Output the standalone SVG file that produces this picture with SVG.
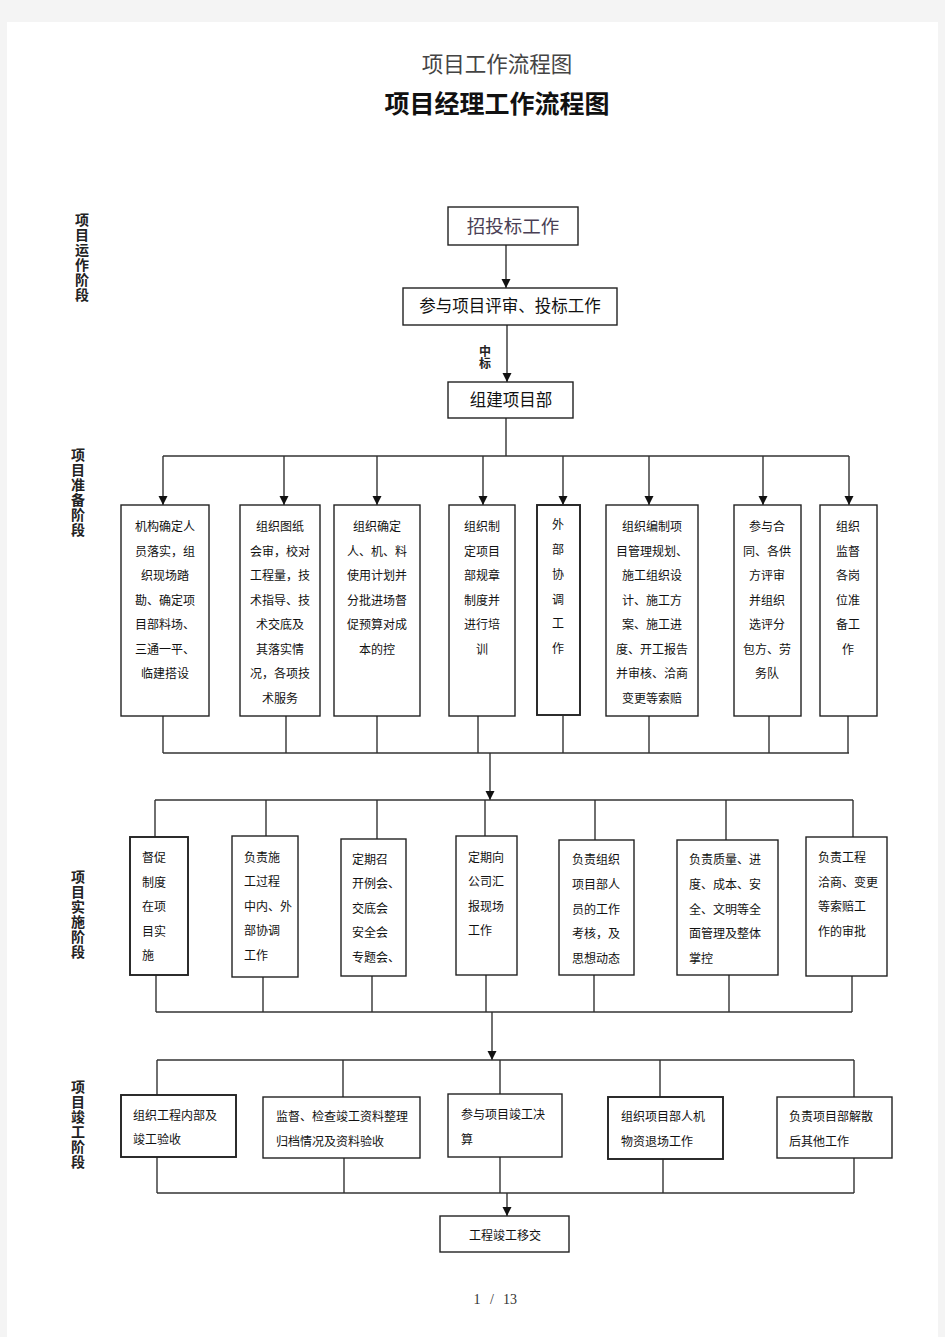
<svg xmlns="http://www.w3.org/2000/svg" width="945" height="1337" viewBox="0 0 945 1337">
<style>
.box{fill:#fff;stroke:#222;stroke-width:1.4}
.thick{stroke-width:1.9}
.ln{fill:none;stroke:#333;stroke-width:1.4}
.t{font-family:"Noto Sans CJK SC","Liberation Sans",sans-serif;font-size:12px;fill:#111}
.c{text-anchor:middle}
.lab{font-family:"Noto Sans CJK SC","Liberation Sans",sans-serif;font-size:14px;font-weight:bold;fill:#222;writing-mode:vertical-rl;letter-spacing:1px}
.big{font-family:"Noto Sans CJK SC","Liberation Sans",sans-serif;font-size:16.5px;fill:#111;text-anchor:middle}
</style>
<defs>
<marker id="ah" markerWidth="10" markerHeight="10" refX="9" refY="5" orient="auto" markerUnits="userSpaceOnUse">
<path d="M0,0.5 L9,5 L0,9.5 Z" fill="#111"/>
</marker>
</defs>
<rect x="0" y="0" width="945" height="1337" fill="#f4f4f4"/>
<rect x="7" y="22" width="931" height="1315" fill="#fff"/>

<text x="497" y="72" style="font-family:'Noto Sans CJK SC',sans-serif;font-size:21.5px;fill:#444" text-anchor="middle">项目工作流程图</text>
<text x="497" y="113" style="font-family:'Noto Sans CJK SC',sans-serif;font-size:25px;font-weight:bold;fill:#111" text-anchor="middle">项目经理工作流程图</text>

<g id="stage-labels">
<text class="lab" x="82" y="213">项目运作阶段</text>
<text class="lab" x="78" y="448">项目准备阶段</text>
<text class="lab" x="78" y="870">项目实施阶段</text>
<text class="lab" x="78" y="1080">项目竣工阶段</text>
</g>

<g id="connectors">
<line class="ln" x1="506" y1="245" x2="506" y2="288" marker-end="url(#ah)"/>
<line class="ln" x1="507" y1="325" x2="507" y2="382" marker-end="url(#ah)"/>
<text x="485" y="345" style="font-family:'Noto Sans CJK SC',sans-serif;font-size:12px;font-weight:bold;fill:#222;writing-mode:vertical-rl">中标</text>
<polyline class="ln" points="506,418 506,456"/>
<line class="ln" x1="163" y1="456" x2="849" y2="456"/>
<line class="ln" x1="163" y1="456" x2="163" y2="505" marker-end="url(#ah)"/>
<line class="ln" x1="284" y1="456" x2="284" y2="505" marker-end="url(#ah)"/>
<line class="ln" x1="377" y1="456" x2="377" y2="505" marker-end="url(#ah)"/>
<line class="ln" x1="483" y1="456" x2="483" y2="505" marker-end="url(#ah)"/>
<line class="ln" x1="563" y1="456" x2="563" y2="505" marker-end="url(#ah)"/>
<line class="ln" x1="649" y1="456" x2="649" y2="505" marker-end="url(#ah)"/>
<line class="ln" x1="763" y1="456" x2="763" y2="505" marker-end="url(#ah)"/>
<line class="ln" x1="849" y1="456" x2="849" y2="505" marker-end="url(#ah)"/>

<line class="ln" x1="163" y1="716" x2="163" y2="753"/>
<line class="ln" x1="286" y1="716" x2="286" y2="753"/>
<line class="ln" x1="377" y1="716" x2="377" y2="753"/>
<line class="ln" x1="478" y1="716" x2="478" y2="753"/>
<line class="ln" x1="563" y1="716" x2="563" y2="753"/>
<line class="ln" x1="649" y1="716" x2="649" y2="753"/>
<line class="ln" x1="769" y1="716" x2="769" y2="753"/>
<line class="ln" x1="848" y1="716" x2="848" y2="753"/>
<line class="ln" x1="163" y1="753" x2="849" y2="753"/>
<line class="ln" x1="490" y1="753" x2="490" y2="800" marker-end="url(#ah)"/>

<line class="ln" x1="155" y1="800" x2="853" y2="800"/>
<line class="ln" x1="155" y1="800" x2="155" y2="837"/>
<line class="ln" x1="266" y1="800" x2="266" y2="836"/>
<line class="ln" x1="377" y1="800" x2="377" y2="839"/>
<line class="ln" x1="485" y1="800" x2="485" y2="836"/>
<line class="ln" x1="595" y1="800" x2="595" y2="840"/>
<line class="ln" x1="726" y1="800" x2="726" y2="840"/>
<line class="ln" x1="853" y1="800" x2="853" y2="837"/>

<line class="ln" x1="156" y1="975" x2="156" y2="1012"/>
<line class="ln" x1="263" y1="977" x2="263" y2="1012"/>
<line class="ln" x1="372" y1="976" x2="372" y2="1012"/>
<line class="ln" x1="486" y1="975" x2="486" y2="1012"/>
<line class="ln" x1="594" y1="975" x2="594" y2="1012"/>
<line class="ln" x1="729" y1="975" x2="729" y2="1012"/>
<line class="ln" x1="852" y1="976" x2="852" y2="1012"/>
<line class="ln" x1="156" y1="1012" x2="852" y2="1012"/>
<line class="ln" x1="492" y1="1012" x2="492" y2="1060" marker-end="url(#ah)"/>

<line class="ln" x1="157" y1="1060" x2="854" y2="1060"/>
<line class="ln" x1="157" y1="1060" x2="157" y2="1095"/>
<line class="ln" x1="343" y1="1060" x2="343" y2="1097"/>
<line class="ln" x1="500" y1="1060" x2="500" y2="1094"/>
<line class="ln" x1="660" y1="1060" x2="660" y2="1097"/>
<line class="ln" x1="854" y1="1060" x2="854" y2="1097"/>

<line class="ln" x1="157" y1="1157" x2="157" y2="1193"/>
<line class="ln" x1="344" y1="1158" x2="344" y2="1193"/>
<line class="ln" x1="500" y1="1157" x2="500" y2="1193"/>
<line class="ln" x1="663" y1="1159" x2="663" y2="1193"/>
<line class="ln" x1="854" y1="1158" x2="854" y2="1193"/>
<line class="ln" x1="157" y1="1193" x2="854" y2="1193"/>
<line class="ln" x1="507" y1="1193" x2="507" y2="1216" marker-end="url(#ah)"/>
</g>

<g id="n-bid">
<rect class="box" x="448" y="207" width="130" height="38"/>
<text x="513" y="233" style="font-family:'Noto Sans CJK SC',sans-serif;font-size:18.5px;fill:#4a3f55" text-anchor="middle">招投标工作</text>
</g>
<g id="n-review">
<rect class="box" x="403" y="288" width="214" height="37"/>
<text class="big" x="510" y="312">参与项目评审、投标工作</text>
</g>
<g id="n-setup">
<rect class="box" x="448" y="382" width="125" height="36"/>
<text class="big" x="511" y="406">组建项目部</text>
</g>

<g id="p1">
<rect class="box" x="121" y="505" width="88" height="211"/>
<text class="t c"><tspan x="165" y="531">机构确定人</tspan><tspan x="165" y="555.5">员落实，组</tspan><tspan x="165" y="580">织现场踏</tspan><tspan x="165" y="604.5">勘、确定项</tspan><tspan x="165" y="629">目部料场、</tspan><tspan x="165" y="653.5">三通一平、</tspan><tspan x="165" y="678">临建搭设</tspan></text>
</g>
<g id="p2">
<rect class="box" x="240" y="505" width="80" height="211"/>
<text class="t c"><tspan x="280" y="531">组织图纸</tspan><tspan x="280" y="555.5">会审，校对</tspan><tspan x="280" y="580">工程量，技</tspan><tspan x="280" y="604.5">术指导、技</tspan><tspan x="280" y="629">术交底及</tspan><tspan x="280" y="653.5">其落实情</tspan><tspan x="280" y="678">况，各项技</tspan><tspan x="280" y="702.5">术服务</tspan></text>
</g>
<g id="p3">
<rect class="box" x="334" y="505" width="86" height="211"/>
<text class="t c"><tspan x="377" y="531">组织确定</tspan><tspan x="377" y="555.5">人、机、料</tspan><tspan x="377" y="580">使用计划并</tspan><tspan x="377" y="604.5">分批进场督</tspan><tspan x="377" y="629">促预算对成</tspan><tspan x="377" y="653.5">本的控</tspan></text>
</g>
<g id="p4">
<rect class="box" x="449" y="505" width="66" height="211"/>
<text class="t c"><tspan x="482" y="531">组织制</tspan><tspan x="482" y="555.5">定项目</tspan><tspan x="482" y="580">部规章</tspan><tspan x="482" y="604.5">制度并</tspan><tspan x="482" y="629">进行培</tspan><tspan x="482" y="653.5">训</tspan></text>
</g>
<g id="p5">
<rect class="box thick" x="537" y="505" width="43" height="210"/>
<text class="t c"><tspan x="558" y="529">外</tspan><tspan x="558" y="554">部</tspan><tspan x="558" y="579">协</tspan><tspan x="558" y="603.5">调</tspan><tspan x="558" y="628">工</tspan><tspan x="558" y="653">作</tspan></text>
</g>
<g id="p6">
<rect class="box" x="606" y="505" width="92" height="211"/>
<text class="t c"><tspan x="652" y="531">组织编制项</tspan><tspan x="652" y="555.5">目管理规划、</tspan><tspan x="652" y="580">施工组织设</tspan><tspan x="652" y="604.5">计、施工方</tspan><tspan x="652" y="629">案、施工进</tspan><tspan x="652" y="653.5">度、开工报告</tspan><tspan x="652" y="678">并审核、洽商</tspan><tspan x="652" y="702.5">变更等索赔</tspan></text>
</g>
<g id="p7">
<rect class="box" x="734" y="505" width="67" height="211"/>
<text class="t c"><tspan x="767" y="531">参与合</tspan><tspan x="767" y="555.5">同、各供</tspan><tspan x="767" y="580">方评审</tspan><tspan x="767" y="604.5">并组织</tspan><tspan x="767" y="629">选评分</tspan><tspan x="767" y="653.5">包方、劳</tspan><tspan x="767" y="678">务队</tspan></text>
</g>
<g id="p8">
<rect class="box" x="820" y="505" width="57" height="211"/>
<text class="t c"><tspan x="848" y="531">组织</tspan><tspan x="848" y="555.5">监督</tspan><tspan x="848" y="580">各岗</tspan><tspan x="848" y="604.5">位准</tspan><tspan x="848" y="629">备工</tspan><tspan x="848" y="653.5">作</tspan></text>
</g>

<g id="i1">
<rect class="box thick" x="130" y="837" width="58" height="138"/>
<text class="t"><tspan x="142" y="862">督促</tspan><tspan x="142" y="886.5">制度</tspan><tspan x="142" y="911">在项</tspan><tspan x="142" y="935.5">目实</tspan><tspan x="142" y="960">施</tspan></text>
</g>
<g id="i2">
<rect class="box" x="232" y="836" width="66" height="141"/>
<text class="t"><tspan x="244" y="861.5">负责施</tspan><tspan x="244" y="886">工过程</tspan><tspan x="244" y="910.5">中内、外</tspan><tspan x="244" y="935">部协调</tspan><tspan x="244" y="959.5">工作</tspan></text>
</g>
<g id="i3">
<rect class="box" x="341" y="839" width="65" height="137"/>
<text class="t"><tspan x="352" y="863.5">定期召</tspan><tspan x="352" y="888">开例会、</tspan><tspan x="352" y="912.5">交底会</tspan><tspan x="352" y="937">安全会</tspan><tspan x="352" y="961.5">专题会、</tspan></text>
</g>
<g id="i4">
<rect class="box" x="456" y="836" width="61" height="139"/>
<text class="t"><tspan x="468" y="861.5">定期向</tspan><tspan x="468" y="886">公司汇</tspan><tspan x="468" y="910.5">报现场</tspan><tspan x="468" y="935">工作</tspan></text>
</g>
<g id="i5">
<rect class="box" x="559" y="840" width="75" height="135"/>
<text class="t"><tspan x="572" y="864">负责组织</tspan><tspan x="572" y="889">项目部人</tspan><tspan x="572" y="913.5">员的工作</tspan><tspan x="572" y="938">考核，及</tspan><tspan x="572" y="963">思想动态</tspan></text>
</g>
<g id="i6">
<rect class="box" x="677" y="840" width="101" height="135"/>
<text class="t"><tspan x="689" y="864">负责质量、进</tspan><tspan x="689" y="889">度、成本、安</tspan><tspan x="689" y="913.5">全、文明等全</tspan><tspan x="689" y="938">面管理及整体</tspan><tspan x="689" y="963">掌控</tspan></text>
</g>
<g id="i7">
<rect class="box" x="806" y="837" width="81" height="139"/>
<text class="t"><tspan x="818" y="862">负责工程</tspan><tspan x="818" y="886.5">洽商、变更</tspan><tspan x="818" y="911">等索赔工</tspan><tspan x="818" y="936">作的审批</tspan></text>
</g>

<g id="c1">
<rect class="box thick" x="121" y="1095" width="115" height="62"/>
<text class="t"><tspan x="133" y="1120">组织工程内部及</tspan><tspan x="133" y="1144">竣工验收</tspan></text>
</g>
<g id="c2">
<rect class="box" x="263" y="1097" width="157" height="61"/>
<text class="t"><tspan x="276" y="1121">监督、检查竣工资料整理</tspan><tspan x="276" y="1146">归档情况及资料验收</tspan></text>
</g>
<g id="c3">
<rect class="box" x="448" y="1094" width="114" height="63"/>
<text class="t"><tspan x="461" y="1119">参与项目竣工决</tspan><tspan x="461" y="1144">算</tspan></text>
</g>
<g id="c4">
<rect class="box thick" x="608" y="1097" width="115" height="62"/>
<text class="t"><tspan x="621" y="1121">组织项目部人机</tspan><tspan x="621" y="1146">物资退场工作</tspan></text>
</g>
<g id="c5">
<rect class="box" x="777" y="1097" width="115" height="61"/>
<text class="t"><tspan x="789" y="1121">负责项目部解散</tspan><tspan x="789" y="1146">后其他工作</tspan></text>
</g>
<g id="handover">
<rect class="box" x="440" y="1216" width="129" height="36"/>
<text class="t c" x="505" y="1239.5">工程竣工移交</text>
</g>

<text style="font-family:'Liberation Serif',serif;font-size:14px;fill:#333" text-anchor="middle"><tspan x="477" y="1304">1</tspan><tspan x="492" y="1304">/</tspan><tspan x="510" y="1304">13</tspan></text>
</svg>
